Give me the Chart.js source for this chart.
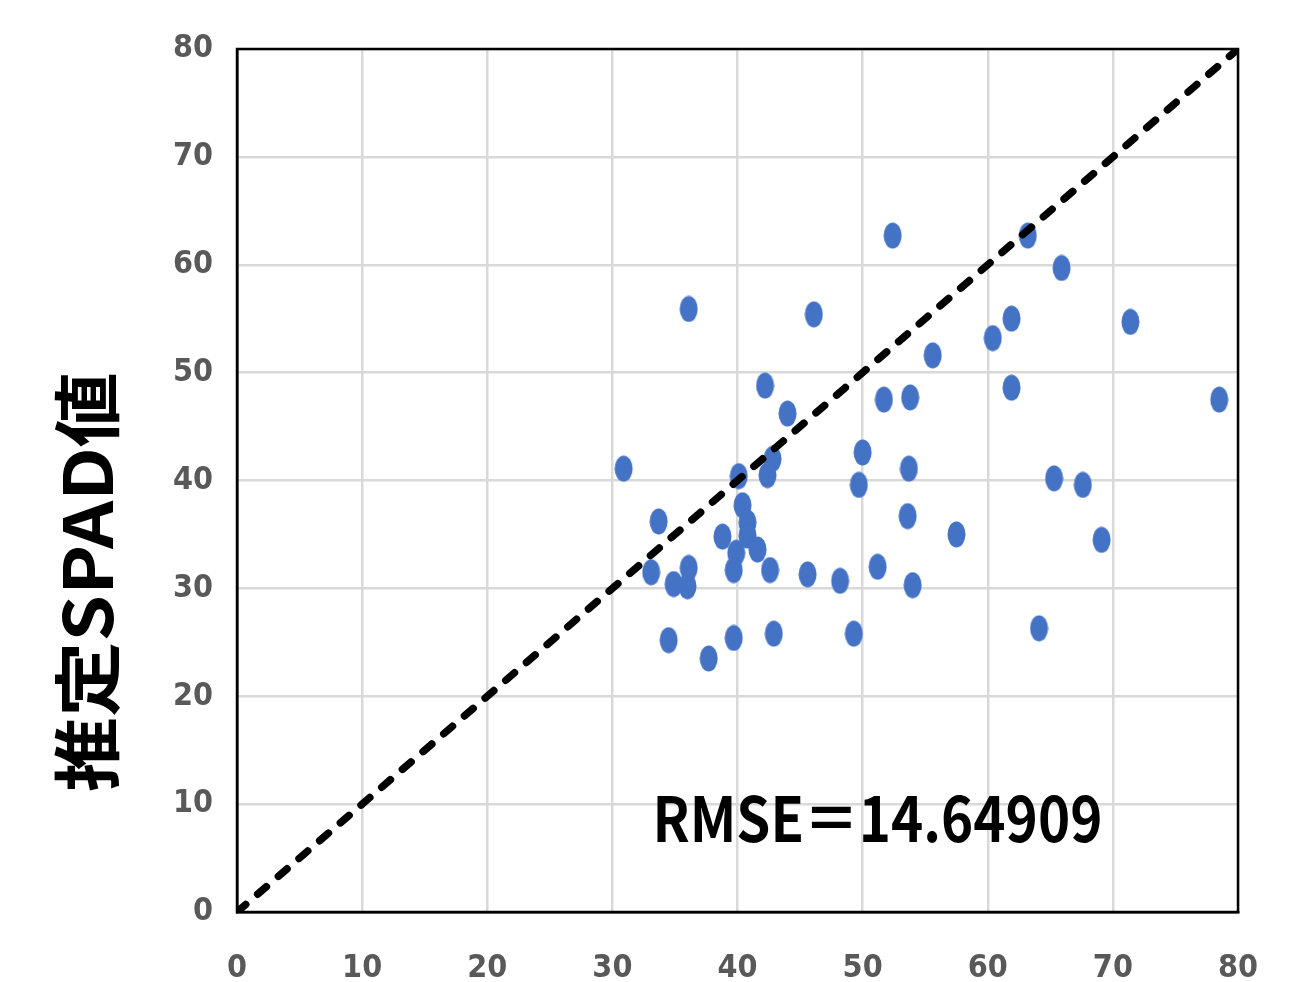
<!DOCTYPE html>
<html>
<head>
<meta charset="utf-8">
<script src="https://cdn.jsdelivr.net/npm/chart.js@4/dist/chart.umd.min.js"></script>
<style>
html,body{margin:0;padding:0;background:#fff;}
#wrap{width:1309px;height:982px;}
</style>
</head>
<body>
<div id="wrap"><canvas id="c" width="1309" height="982"></canvas></div>
<script>
// measured SPAD values (x) and estimated SPAD values (y)
const measured = [30.9,36.1,46.1,52.4,63.2,65.9,71.4,61.9,60.4,55.6,61.9,51.7,53.8,78.5,42.2,44.0,50.0,49.7,53.7,65.3,67.6,53.6,57.5,69.1,40.1,42.8,42.4,40.4,40.8,40.8,41.6,39.9,39.7,38.8,42.6,33.7,33.1,36.1,34.9,36.0,45.6,48.2,51.2,54.0,34.5,37.7,39.7,42.9,49.3,64.1];
const estimated = [41.1,55.9,55.4,62.7,62.7,59.7,54.7,55.0,53.2,51.6,48.6,47.5,47.7,47.5,48.8,46.2,42.6,39.6,41.1,40.2,39.6,36.7,35.0,34.5,40.4,42.0,40.5,37.7,36.1,34.9,33.6,33.3,31.7,34.8,31.7,36.2,31.5,31.9,30.4,30.2,31.3,30.7,32.0,30.3,25.2,23.5,25.4,25.8,25.8,26.3];
const refLineX = [0, 80];
const refLineY = [0, 80];
const xTicks = [0,10,20,30,40,50,60,70,80];
const yTicks = [0,10,20,30,40,50,60,70,80];
const yTitle = '推定SPAD値';
const rmseText = 'RMSE＝14.64909';

const blue = '#4472C4';
// elliptical marker
const marker = document.createElement('canvas');
marker.width = 19; marker.height = 27;
(function(){
  const g = marker.getContext('2d');
  g.fillStyle = blue;
  g.beginPath();
  g.ellipse(9.5, 13.5, 9, 13, 0, 0, Math.PI*2);
  g.fill();
})();

const tickFont = {family: "'Liberation Sans Narrow','DejaVu Sans Condensed',sans-serif", size: 32, weight: 'bold'};

const overlay = {
  id: 'overlay',
  afterDraw(chart) {
    const ctx = chart.ctx;
    const a = chart.chartArea;
    ctx.save();
    ctx.strokeStyle = '#000';
    ctx.lineWidth = 2.5;
    ctx.strokeRect(a.left, a.top, a.right - a.left, a.bottom - a.top);
    // RMSE text
    const xs = chart.scales.x, ys = chart.scales.y;
    const tx = xs.getPixelForValue(33.2), ty = ys.getPixelForValue(6.5);
    ctx.font = "bold 62px 'Noto Sans CJK JP', sans-serif";
    ctx.fillStyle = '#000';
    ctx.textBaseline = 'alphabetic';
    ctx.textAlign = 'left';
    const w = ctx.measureText(rmseText).width;
    ctx.translate(tx, ty);
    ctx.scale(450 / w, 1);
    ctx.fillText(rmseText, 0, 0);
    ctx.restore();
    // Y title
    ctx.save();
    ctx.font = "bold 68px 'Noto Sans CJK JP', sans-serif";
    ctx.fillStyle = '#000';
    ctx.textAlign = 'center';
    ctx.textBaseline = 'middle';
    const tw = ctx.measureText(yTitle).width;
    ctx.translate(87, 582);
    ctx.rotate(-Math.PI/2);
    ctx.scale(420 / tw, 1);
    ctx.fillText(yTitle, 0, 0);
    ctx.restore();
  }
};

new Chart(document.getElementById('c'), {
  data: {
    datasets: [
      {
        type: 'line',
        data: refLineX.map((v,i)=>({x:v, y:refLineY[i]})),
        borderColor: '#000',
        borderWidth: 7.5,
        borderDash: [11.5, 15.8],
        borderCapStyle: 'round',
        pointRadius: 0,
        fill: false,
        order: 0
      },
      {
        type: 'scatter',
        data: measured.map((v,i)=>({x:v, y:estimated[i]})),
        pointStyle: marker,
        backgroundColor: blue,
        borderColor: blue,
        order: 1
      }
    ]
  },
  options: {
    responsive: false,
    animation: false,
    devicePixelRatio: 1,
    layout: {padding: {left: 0, top: 49, right: 71, bottom: 0}},
    plugins: {legend: {display: false}, tooltip: {enabled: false}},
    scales: {
      x: {
        type: 'linear', min: 0, max: 80,
        afterBuildTicks: s => { s.ticks = xTicks.map(v=>({value:v})); },
        afterFit: s => { s.height = 70; },
        grid: {color: '#d9d9d9', lineWidth: 2.5, drawTicks: false},
        border: {color: '#000', width: 2.5},
        ticks: {font: tickFont, color: '#595959', padding: 37, maxRotation: 0}
      },
      y: {
        type: 'linear', min: 0, max: 80,
        afterBuildTicks: s => { s.ticks = yTicks.map(v=>({value:v})); },
        afterFit: s => { s.width = 237; },
        grid: {color: '#d9d9d9', lineWidth: 2.5, drawTicks: false},
        border: {color: '#000', width: 2.5},
        ticks: {font: tickFont, color: '#595959', padding: 24}
      }
    }
  },
  plugins: [overlay]
});
</script>
</body>
</html>
